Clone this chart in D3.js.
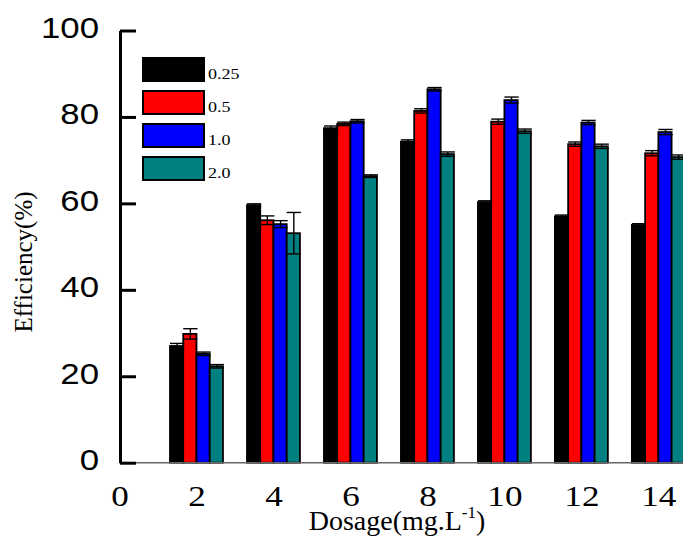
<!DOCTYPE html>
<html>
<head>
<meta charset="utf-8">
<script src="https://cdn.jsdelivr.net/npm/d3@7"></script>
<style>
  html, body { margin: 0; padding: 0; background: #fff; }
  svg { display: block; }
</style>
</head>
<body>
<script>
// ---- data ----
const dosages = [2, 4, 6, 8, 10, 12, 14];
const seriesNames = ["0.25", "0.5", "1.0", "2.0"];
const eff025 = [27.0, 59.6, 77.4, 74.3, 60.3, 57.0, 55.0];
const eff05  = [29.8, 56.1, 78.4, 81.4, 78.9, 73.7, 71.6];
const eff10  = [25.2, 55.2, 79.0, 86.4, 83.9, 78.7, 76.5];
const eff20  = [22.3, 53.1, 66.3, 71.4, 76.7, 73.2, 70.7];
const err025 = [0.6, 0.3, 0.5, 0.4, 0.3, 0.3, 0.3];
const err05  = [1.2, 1.0, 0.4, 0.5, 0.6, 0.5, 0.6];
const err10  = [0.4, 0.8, 0.4, 0.4, 0.7, 0.5, 0.6];
const err20  = [0.4, 4.8, 0.3, 0.5, 0.5, 0.5, 0.5];
const xTicks = [0, 2, 4, 6, 8, 10, 12, 14];
const yTicks = [0, 20, 40, 60, 80, 100];
const colors = ["#000000", "#ff0000", "#0000ff", "#008080"];

const values = [eff025, eff05, eff10, eff20];
const errors = [err025, err05, err10, err20];

const W = 683, H = 537;
const svg = d3.select("body").append("svg").attr("width", W).attr("height", H);

const x = d3.scaleLinear().domain([0, 14.64]).range([119.5, 683]);
const y = d3.scaleLinear().domain([0, 100]).range([462.7, 30.5]);
const barW = x(0.344) - x(0);

// bars
const bars = svg.append("g");
values.forEach((vals, s) => {
  bars.selectAll(null).data(dosages).enter().append("rect")
    .attr("x", (d, i) => x(d) + (s - 2) * barW)
    .attr("y", (d, i) => y(vals[i]))
    .attr("width", barW)
    .attr("height", (d, i) => y(0) - y(vals[i]))
    .attr("fill", colors[s])
    .attr("stroke", "#000")
    .attr("stroke-width", 1.8);
});

// error bars
const eb = svg.append("g").attr("stroke", "#000").attr("stroke-width", 1.4).attr("fill", "none");
values.forEach((vals, s) => {
  dosages.forEach((d, i) => {
    const cx = x(d) + (s - 2) * barW + barW / 2 + 0.5;
    const hi = y(vals[i] + errors[s][i]);
    const lo = y(vals[i] - errors[s][i]);
    const cw = barW / 2 + 0.5;
    eb.append("line").attr("x1", cx).attr("x2", cx).attr("y1", hi).attr("y2", lo);
    eb.append("line").attr("x1", cx - cw).attr("x2", cx + cw).attr("y1", hi).attr("y2", hi);
    eb.append("line").attr("x1", cx - cw).attr("x2", cx + cw).attr("y1", lo).attr("y2", lo);
  });
});

// x axis
const xAxis = svg.append("g").attr("transform", `translate(0,${y(0)})`)
  .call(d3.axisBottom(x).tickValues(xTicks).tickSize(0).tickSizeOuter(0).tickPadding(0));
xAxis.select(".domain").attr("stroke", "#666").attr("stroke-width", 1.6)
  .attr("d", `M${x(0) + 1},0H${W}`);
xAxis.selectAll(".tick text")
  .attr("font-family", "'Liberation Serif','Times New Roman',serif")
  .attr("font-size", 30).attr("fill", "#000")
  .attr("y", 43.5).attr("dy", 0)
  .attr("transform", "scale(1.17,1)");

// y axis
const yAxis = svg.append("g").attr("transform", `translate(120,0)`)
  .call(d3.axisLeft(y).tickValues(yTicks).tickSize(-16).tickSizeOuter(0).tickPadding(0));
yAxis.select(".domain").attr("stroke", "#000").attr("stroke-width", 3);
yAxis.selectAll(".tick line").attr("stroke", "#000").attr("stroke-width", 3);
yAxis.selectAll(".tick text")
  .attr("font-family", "'Liberation Sans',Arial,sans-serif")
  .attr("font-size", 29).attr("fill", "#000")
  .attr("x", -21 / 1.2).attr("dy", "0.36em").attr("y", -3.5)
  .attr("transform", "scale(1.2,1)");

// axis titles
const xt = svg.append("text")
  .attr("x", 397).attr("y", 530)
  .attr("text-anchor", "middle")
  .attr("font-family", "'Liberation Serif','Times New Roman',serif")
  .attr("font-size", 28).attr("fill", "#000");
xt.append("tspan").text("Dosage(mg.L");
xt.append("tspan").attr("font-size", 17).attr("dy", -12).text("-1");
xt.append("tspan").attr("dy", 12).text(")");

svg.append("text")
  .attr("transform", "translate(32,262) rotate(-90)")
  .attr("text-anchor", "middle")
  .attr("font-family", "'Liberation Serif','Times New Roman',serif")
  .attr("font-size", 25).attr("fill", "#000")
  .text("Efficiency(%)");

// legend
const lg = svg.append("g");
seriesNames.forEach((name, s) => {
  const top = 58 + s * 33;
  lg.append("rect").attr("x", 143).attr("y", top).attr("width", 61).attr("height", 23)
    .attr("fill", colors[s]).attr("stroke", "#000").attr("stroke-width", 2);
  lg.append("text").attr("x", 208 / 1.2).attr("y", top + 21)
    .attr("transform", "scale(1.2,1)")
    .attr("font-family", "'Liberation Serif','Times New Roman',serif")
    .attr("font-size", 15).attr("fill", "#000").text(name);
});
</script>
</body>
</html>
